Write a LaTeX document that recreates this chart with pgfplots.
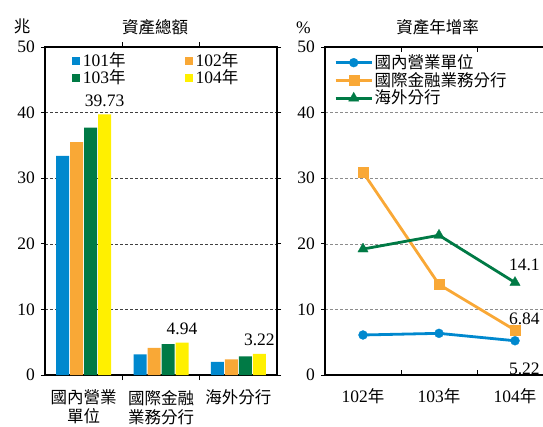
\documentclass[border=0pt]{standalone}
\usepackage{fontspec}
\setmainfont{Liberation Serif}
\newfontfamily\cjk{Noto Sans CJK TC}
\usepackage{pgfplots}
\pgfplotsset{compat=1.18}
\definecolor{cblue}{RGB}{0,136,206}
\definecolor{corange}{RGB}{249,168,54}
\definecolor{cgreen}{RGB}{0,122,69}
\definecolor{cyellow}{RGB}{255,240,0}
\newcommand\cj[1]{{\cjk\fontsize{16.5}{19}\selectfont #1}}
\newcommand\nf{\fontsize{17.5}{19}\selectfont}
\pgfplotsset{
  common/.style={
    scale only axis, anchor=south west,
    ymin=0, ymax=50, ytick={0,10,...,50},
    xmin=-0.5, xmax=2.5, xtick={0,1,2}, minor xtick={0.5,1.5},
    major x tick style={draw=none},
    minor x tick style={black, line width=1pt},
    minor tick length=5pt, major tick length=4pt,
    xtick align=inside, ytick align=outside,
    ytick style={black, line width=0.8pt},
    axis line style={line width=1.3pt},
    ymajorgrids,
    /pgf/number format/assume math mode=true,
    tick label style={font=\nf},
    xticklabel style={yshift=-5pt},
    clip=false,
  }
}
\begin{document}
\nf
\begin{tikzpicture}[x=1pt,y=1pt]
\path[use as bounding box] (0,0) rectangle (543,426);
\begin{axis}[common,
  at={(45pt,51pt)}, width=232pt, height=328pt,
  major grid style={dash pattern=on 3pt off 2pt, black!75, line width=0.6pt},
  ybar=1pt, bar width=13pt,
  xticklabels={\cj{國內營業}\\\cj{單位}, \cj{國際金融}\\\cj{業務分行}, \cj{海外分行}},
  xticklabel style={align=center},
  legend columns=2,
  legend style={at={(0.115,0.983)}, anchor=north west, draw=none, fill=none,
    inner sep=0pt, font=\nf,
    nodes={inner ysep=0pt, inner xsep=3pt},
    /tikz/every even column/.append style={column sep=56pt}},
  legend cell align=left,
  legend image code/.code={\fill[#1] (0pt,-4pt) rectangle (8pt,4pt);},
]
\addplot[fill=cblue, draw=none] coordinates {(0,33.4) (1,3.15) (2,2.0)};
\addplot[fill=corange, draw=none] coordinates {(0,35.5) (1,4.15) (2,2.4)};
\addplot[fill=cgreen, draw=none] coordinates {(0,37.7) (1,4.7) (2,2.85)};
\addplot[fill=cyellow, draw=none, nodes near coords,
  nodes near coords style={black, font=\nf, anchor=south, yshift=2pt}]
  coordinates {(0,39.73) (1,4.94) (2,3.22)};
\legend{101\cj{年}, 102\cj{年}, 103\cj{年}, 104\cj{年}}
\end{axis}
\begin{axis}[common,
  at={(325pt,51pt)}, width=228pt, height=328pt,
  major grid style={dash pattern=on 3pt off 2pt, black!45, line width=0.6pt},
  xticklabels={102\cj{年}, 103\cj{年}, 104\cj{年}},
  xticklabel style={yshift=-3pt},
  legend style={at={(0.04,0.98)}, anchor=north west, draw=none, fill=none,
    inner sep=0pt, font=\nf,
    nodes={inner ysep=0.6pt, inner xsep=1.5pt}},
  legend cell align=left,
  legend image code/.code={\draw[mark repeat=2,mark phase=2,#1] plot coordinates {(0pt,0pt) (18pt,0pt) (36pt,0pt)};},
]
\addplot[cblue, line width=2.8pt, mark=*, mark size=4.5pt, mark options={line width=0.3pt}]
  coordinates {(0,6.1) (1,6.35) (2,5.22)};
\addplot[corange, line width=2.8pt, mark=square*, mark size=5pt, mark options={line width=0.3pt}]
  coordinates {(0,30.9) (1,13.8) (2,6.84)};
\addplot[cgreen, line width=2.8pt, mark=triangle*, mark size=6pt, mark options={line width=0.3pt}]
  coordinates {(0,19.2) (1,21.3) (2,14.1)};
\legend{\cj{國內營業單位}, \cj{國際金融業務分行}, \cj{海外分行}}
\node[anchor=south east, font=\nf, inner sep=1pt, yshift=11pt] at (axis cs:2.34,14.1) {14.1};
\node[anchor=south east, font=\nf, inner sep=1pt, yshift=4pt] at (axis cs:2.34,6.84) {6.84};
\node[anchor=north east, font=\nf, inner sep=1pt, yshift=-21pt] at (axis cs:2.34,5.22) {5.22};
\end{axis}
\node at (22,400) {\cj{兆}};
\node at (155,399) {\cj{資產總額}};
\node at (303.5,398) {\%};
\node at (437.5,399) {\cj{資產年增率}};
\end{tikzpicture}
\end{document}
